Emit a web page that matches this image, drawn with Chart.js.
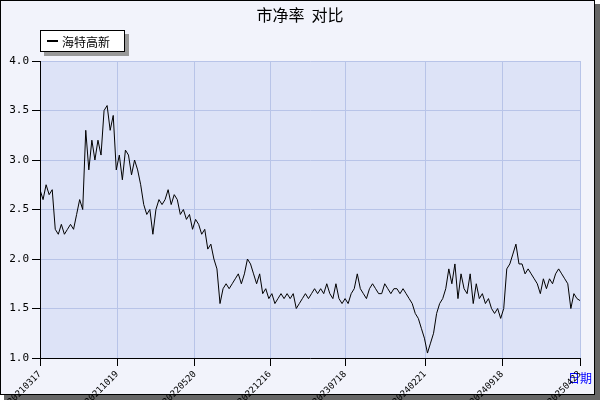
<!DOCTYPE html><html><head><meta charset="utf-8">
<script src="https://cdn.jsdelivr.net/npm/chart.js@4"></script>
<style>body{margin:0;background:#fff}#w{position:relative;width:600px;height:400px}</style></head><body><div id="w"><canvas id="c" width="600" height="400"></canvas></div>
<script>
const seriesName='海特高新';
const values=[2.7,2.6,2.75,2.65,2.7,2.3,2.25,2.35,2.25,2.3,2.35,2.3,2.45,2.6,2.5,3.3,2.9,3.2,3.0,3.2,3.05,3.5,3.55,3.3,3.45,2.9,3.05,2.8,3.1,3.05,2.85,3.0,2.9,2.75,2.55,2.45,2.5,2.25,2.5,2.6,2.55,2.6,2.7,2.55,2.65,2.6,2.45,2.5,2.4,2.45,2.3,2.4,2.35,2.25,2.3,2.1,2.15,2.0,1.9,1.55,1.7,1.75,1.7,1.75,1.8,1.85,1.75,1.85,2.0,1.95,1.85,1.75,1.85,1.65,1.7,1.6,1.65,1.55,1.6,1.65,1.6,1.65,1.6,1.65,1.5,1.55,1.6,1.65,1.6,1.65,1.7,1.65,1.7,1.65,1.75,1.65,1.6,1.75,1.6,1.55,1.6,1.55,1.65,1.7,1.85,1.7,1.65,1.6,1.7,1.75,1.7,1.65,1.65,1.75,1.7,1.65,1.7,1.7,1.65,1.7,1.65,1.6,1.55,1.45,1.4,1.3,1.2,1.05,1.15,1.25,1.45,1.55,1.6,1.7,1.9,1.75,1.95,1.6,1.85,1.7,1.65,1.85,1.55,1.75,1.6,1.65,1.55,1.6,1.5,1.45,1.5,1.4,1.5,1.9,1.95,2.05,2.15,1.95,1.95,1.85,1.9,1.85,1.8,1.75,1.65,1.8,1.7,1.8,1.75,1.85,1.9,1.85,1.8,1.75,1.5,1.65,1.6,1.58];
const tickLabels=['20210317','20211019','20220520','20221216','20230718','20240221','20240918','20250423'];
const tickFracs=[0,0.143,0.287,0.426,0.565,0.713,0.856,1.0];
const N=values.length;
const pts=values.map((v,i)=>({x:i,y:v}));
const tickPos=tickFracs.map(f=>f*(N-1));
const frame={id:'frame',beforeDraw(c){const g=c.ctx;g.save();g.fillStyle='#666';g.fillRect(4,4,596,396);g.fillStyle='#f2f3fb';g.fillRect(0,0,595,395);g.strokeStyle='#000';g.strokeRect(0.5,0.5,594,394);
const a=c.chartArea;g.fillStyle='#dde3f7';g.fillRect(a.left,a.top,a.right-a.left,a.bottom-a.top);
g.fillStyle='#999';g.fillRect(44,34,85,22);g.fillStyle='#fff';g.fillRect(40,30,85,22);g.strokeStyle='#000';g.strokeRect(40.5,30.5,84,21);
g.beginPath();g.moveTo(47,41);g.lineTo(58,41);g.lineWidth=2;g.stroke();g.fillStyle='#000';g.font='12px "Noto Sans CJK SC"';g.textBaseline='middle';g.fillText(seriesName,62,42);
g.font='16px "Noto Sans CJK SC"';g.textAlign='center';g.fillText('市净率  对比',300,15);
g.fillStyle='#00f';g.font='12px "Noto Sans CJK SC"';g.textAlign='right';g.fillText('日期',592,378);g.restore();}};
new Chart(document.getElementById('c'),{type:'line',data:{datasets:[{data:pts,borderColor:'#000',borderWidth:1,pointRadius:0,tension:0}]},
options:{responsive:false,animation:false,layout:{padding:{left:0,right:20,top:61,bottom:0}},plugins:{legend:{display:false},tooltip:{enabled:false}},
scales:{x:{type:'linear',min:0,max:N-1,afterBuildTicks(s){s.ticks=tickPos.map(v=>({value:v}));},afterFit(s){s.height=42;},
ticks:{autoSkip:false,maxRotation:45,minRotation:45,color:'#000',font:{family:'DejaVu Sans Mono',size:9},callback:(v,i)=>tickLabels[i]},
grid:{color:'#b8c4e8',tickColor:'#000',drawTicks:true},border:{color:'#000'}},
y:{min:1,max:4,afterFit(s){s.width=40;},ticks:{stepSize:0.5,color:'#000',font:{family:'DejaVu Sans Mono',size:11},callback:v=>v.toFixed(1)},grid:{color:'#b8c4e8',tickColor:'#000'},border:{color:'#000'}}}},
plugins:[frame]});
</script></body></html>
